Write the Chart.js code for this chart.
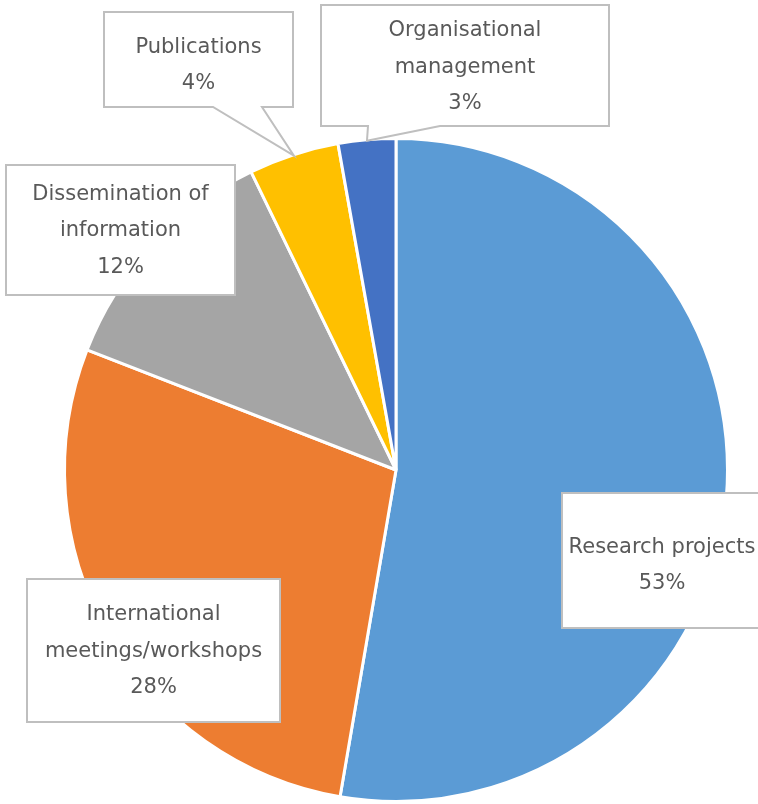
<!DOCTYPE html>
<html lang="en">
<head>
    <meta charset="UTF-8">
    <title>Expenditure by activity</title>
    <script src="https://cdn.jsdelivr.net/npm/chart.js"></script>
    <style>
        html, body { margin: 0; padding: 0; background: #ffffff; }
        #wrap { width: 758px; height: 804px; }
    </style>
</head>
<body>
    <div id="wrap"><canvas id="pieChart" width="758" height="804"></canvas></div>

    <script>
    // Data (share of total, %)
    const categories = [
        'Research projects',
        'International meetings/workshops',
        'Dissemination of information',
        'Publications',
        'Organisational management'
    ];
    const shares = [52.7, 28.2, 11.9, 4.4, 2.8];
    const sliceColors = ['#5B9BD5', '#ED7D31', '#A5A5A5', '#FFC000', '#4472C4'];

    // how each label is broken into lines inside its box
    const labelLines = [
        ['Research projects'],
        ['International', 'meetings/workshops'],
        ['Dissemination of', 'information'],
        ['Publications'],
        ['Organisational', 'management']
    ];

    // callout boxes (layout only): x, y, w, h, optional pointer base on bottom edge
    const boxes = [
        { x: 562, y: 493, w: 200, h: 135, dy: 5 },
        { x: 27, y: 579, w: 253, h: 143, dy: 1 },
        { x: 6, y: 165, w: 229, h: 130, dy: 1 },
        { x: 104, y: 12, w: 189, h: 95, dy: 6, baseL: 213, baseR: 262 },
        { x: 321, y: 5, w: 288, h: 121, dy: 2, baseL: 368, baseR: 440 }
    ];

    const calloutPlugin = {
        id: 'callouts',
        afterDatasetsDraw(chart) {
            const ctx = chart.ctx;
            const meta = chart.getDatasetMeta(0);
            const total = shares.reduce((a, b) => a + b, 0);
            ctx.save();
            ctx.font = '21px "DejaVu Sans", Verdana, sans-serif';
            ctx.textAlign = 'center';
            ctx.textBaseline = 'middle';
            boxes.forEach((b, i) => {
                const arc = meta.data[i];
                ctx.beginPath();
                if (b.baseL !== undefined) {
                    const mid = (arc.startAngle + arc.endAngle) / 2;
                    const tipX = arc.x + Math.cos(mid) * (arc.outerRadius - 1);
                    const tipY = arc.y + Math.sin(mid) * (arc.outerRadius - 1);
                    const bottom = b.y + b.h;
                    ctx.moveTo(b.x, b.y);
                    ctx.lineTo(b.x + b.w, b.y);
                    ctx.lineTo(b.x + b.w, bottom);
                    ctx.lineTo(b.baseR, bottom);
                    ctx.lineTo(tipX, tipY);
                    ctx.lineTo(b.baseL, bottom);
                    ctx.lineTo(b.x, bottom);
                    ctx.closePath();
                } else {
                    ctx.rect(b.x, b.y, b.w, b.h);
                }
                ctx.fillStyle = '#ffffff';
                ctx.fill();
                ctx.lineWidth = 2;
                ctx.strokeStyle = '#BFBFBF';
                ctx.stroke();

                const lines = labelLines[i].concat([Math.round(shares[i] / total * 100) + '%']);
                const lh = 36.5;
                const cx = b.x + b.w / 2;
                const cy = b.y + b.h / 2 + b.dy;
                ctx.fillStyle = '#595959';
                lines.forEach((t, k) => {
                    ctx.fillText(t, cx, cy + (k - (lines.length - 1) / 2) * lh);
                });
            });
            ctx.restore();
        }
    };

    new Chart(document.getElementById('pieChart'), {
        type: 'pie',
        data: {
            labels: categories,
            datasets: [{
                data: shares,
                backgroundColor: sliceColors,
                borderColor: '#ffffff',
                borderWidth: 3
            }]
        },
        options: {
            responsive: false,
            animation: false,
            events: [],
            radius: 331.5,
            layout: { padding: { left: 66, right: 32, top: 140, bottom: 4 } },
            plugins: {
                legend: { display: false },
                tooltip: { enabled: false },
                title: { display: false }
            }
        },
        plugins: [calloutPlugin]
    });
    </script>
</body>
</html>
